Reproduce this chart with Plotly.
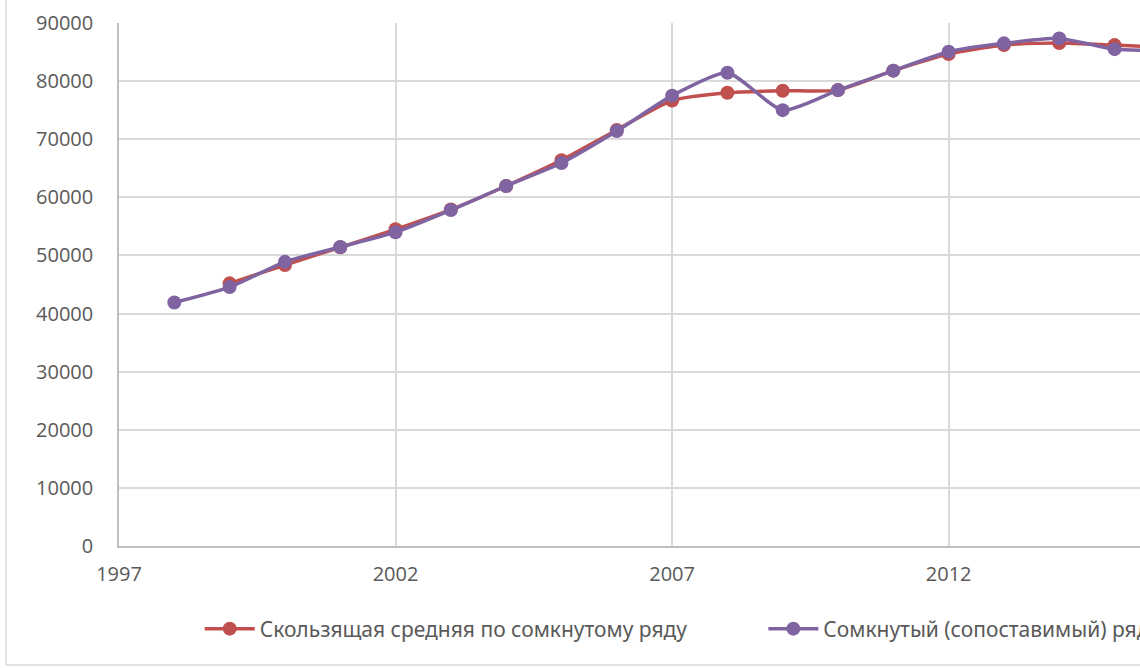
import plotly.graph_objects as go

years = [1998, 1999, 2000, 2001, 2002, 2003, 2004, 2005, 2006, 2007,
         2008, 2009, 2010, 2011, 2012, 2013, 2014, 2015, 2016]

# Скользящая средняя (starts in 1999)
ma_years = years[1:]
ma_values = [45200, 48350, 51400, 54500, 57900, 61950, 66400, 71600, 76650,
             78000, 78350, 78450, 81800, 84650, 86200, 86550, 86200, 85800]

# Сомкнутый ряд
closed_values = [41900, 44550, 48900, 51450, 54000, 57800, 61950, 65900, 71400,
                 77500, 81450, 75000, 78450, 81800, 85050, 86500, 87350, 85500, 85300]

red = "#C0504D"
purple = "#8064A2"
grey_text = "#595959"
grid = "#d9d9d9"

fig = go.Figure()
fig.add_trace(go.Scatter(
    x=ma_years, y=ma_values, mode="lines+markers",
    name="Скользящая средняя по сомкнутому ряду",
    line=dict(color=red, width=3.5, shape="spline", smoothing=0.6),
    marker=dict(color=red, size=14),
    legend="legend",
))
fig.add_trace(go.Scatter(
    x=years, y=closed_values, mode="lines+markers",
    name="Сомкнутый (сопоставимый) ряд",
    line=dict(color=purple, width=3.5, shape="spline", smoothing=0.6),
    marker=dict(color=purple, size=14),
    legend="legend2",
))

legend_font = dict(family="Noto Sans", size=21, color=grey_text)
fig.update_layout(
    width=1140, height=668,
    margin=dict(l=119, r=0, t=23, b=122),
    plot_bgcolor="white", paper_bgcolor="white",
    font=dict(family="Open Sans", size=20, color=grey_text),
    showlegend=True,
    legend=dict(orientation="h", xref="container", yref="container",
                x=0.1752, xanchor="left", y=0.0584, yanchor="middle",
                font=legend_font, itemwidth=50),
    legend2=dict(orientation="h", xref="container", yref="container",
                 x=0.6696, xanchor="left", y=0.0584, yanchor="middle",
                 font=legend_font, itemwidth=50),
    shapes=[
        dict(type="line", xref="paper", yref="paper",
             x0=-0.1107, x1=-0.1107, y0=1.05, y1=-0.2275,
             line=dict(color=grid, width=1.5)),
        dict(type="line", xref="paper", yref="paper",
             x0=-0.1107, x1=1.01, y0=-0.2275, y1=-0.2275,
             line=dict(color=grid, width=1.5)),
    ],
)
fig.update_xaxes(
    range=[1997, 2015.46], tick0=1997, dtick=5, tickformat="d",
    showgrid=True, gridcolor=grid, gridwidth=1.5,
    showline=True, linecolor="#bfbfbf", linewidth=1.5,
    ticks="", zeroline=False, automargin=False, ticklabelstandoff=9,
)
fig.update_yaxes(
    range=[0, 90000], dtick=10000, tickformat="d",
    showgrid=True, gridcolor=grid, gridwidth=1.5,
    showline=True, linecolor="#bfbfbf", linewidth=1.5,
    ticks="", zeroline=False, automargin=False, ticklabelstandoff=20,
)

# drop the browser's default body margin so the figure sits at the page corner
fig.write_html("out.html", config={"displayModeBar": False},
               post_script="document.body.style.margin = '0';")
